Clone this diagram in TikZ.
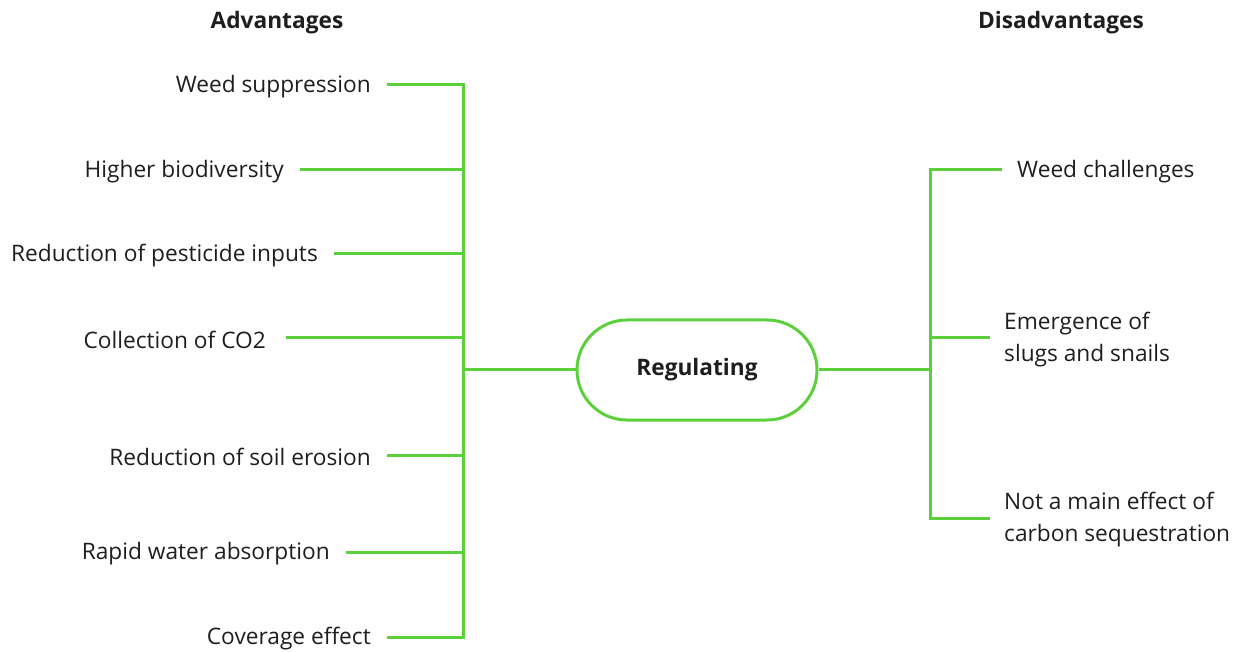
\documentclass[tikz,border=0pt]{standalone}
\usepackage{fontspec}
\setmainfont{Open Sans}
\definecolor{leaf}{RGB}{92,208,60}
\definecolor{ink}{RGB}{30,30,30}
\begin{document}
\begin{tikzpicture}[x=1pt,y=-1pt,
  branch/.style={draw=leaf,line width=3pt},
  txt/.style={text=ink,font=\fontsize{22.7}{32}\selectfont},
  pro/.style={txt,anchor=east,inner xsep=16pt,inner ysep=0pt,yshift=-1.5pt},
  con/.style={txt,anchor=west,inner xsep=14pt,inner ysep=0pt,align=left,yshift=-1.5pt},
  heading/.style={text=ink,font=\fontsize{22.7}{32}\selectfont\bfseries},
  hub/.style={draw=leaf,line width=3pt,rounded corners=50pt,minimum width=240pt,minimum height=100pt,text=ink,font=\fontsize{22.7}{32}\selectfont\bfseries}]
\useasboundingbox (0,0) rectangle (1235,652);

% titles
\node[heading] (adv) at (277,23) {Advantages};
\node[heading] (dis) at (1061,23) {Disadvantages};

% central topic
\node[hub] (reg) at (697,370) {\raisebox{-1.5pt}{Regulating}};

% left bus points
\coordinate (l1) at (463,85);
\coordinate (l2) at (463,170);
\coordinate (l3) at (463,254);
\coordinate (l4) at (463,338);
\coordinate (lm) at (463,370);
\coordinate (l5) at (463,455);
\coordinate (l6) at (463,552);
\coordinate (l7) at (463,637);

% right bus points
\coordinate (r1) at (930,170);
\coordinate (rm) at (930,370);
\coordinate (r2) at (930,338);
\coordinate (r3) at (930,518);

% advantages
\node[pro] (a1) at (387,85) {Weed suppression};
\node[pro] (a2) at (300,170) {Higher biodiversity};
\node[pro] (a3) at (334,254) {Reduction of pesticide inputs};
\node[pro,inner xsep=20pt] (a4) at (286,338) {Collection of CO2};
\node[pro] (a5) at (387,455) {Reduction of soil erosion};
\node[pro] (a6) at (346,552) {Rapid water absorption};
\node[pro] (a7) at (387,637) {Coverage effect};

% disadvantages
\node[con,inner xsep=15pt] (d1) at (1002,170) {Weed challenges};
\node[con] (d2) at (990,338) {Emergence of\\slugs and snails};
\node[con] (d3) at (990,518) {Not a main effect of\\carbon sequestration};

% connectors (kept level with the bus points)
\draw[branch,line cap=rect] (l1) -- (l7);
\draw[branch,line cap=rect] (r1) -- (r3);
\foreach \t/\b in {a1/l1,a2/l2,a3/l3,a4/l4,a5/l5,a6/l6,a7/l7}
  \draw[branch] (\b -| \t.east) -- (\b);
\foreach \t/\b in {d1/r1,d2/r2,d3/r3}
  \draw[branch] (\b) -- (\b -| \t.west);
\draw[branch] (lm) -- (reg.west);
\draw[branch] (reg.east) -- (rm);
\end{tikzpicture}
\end{document}
